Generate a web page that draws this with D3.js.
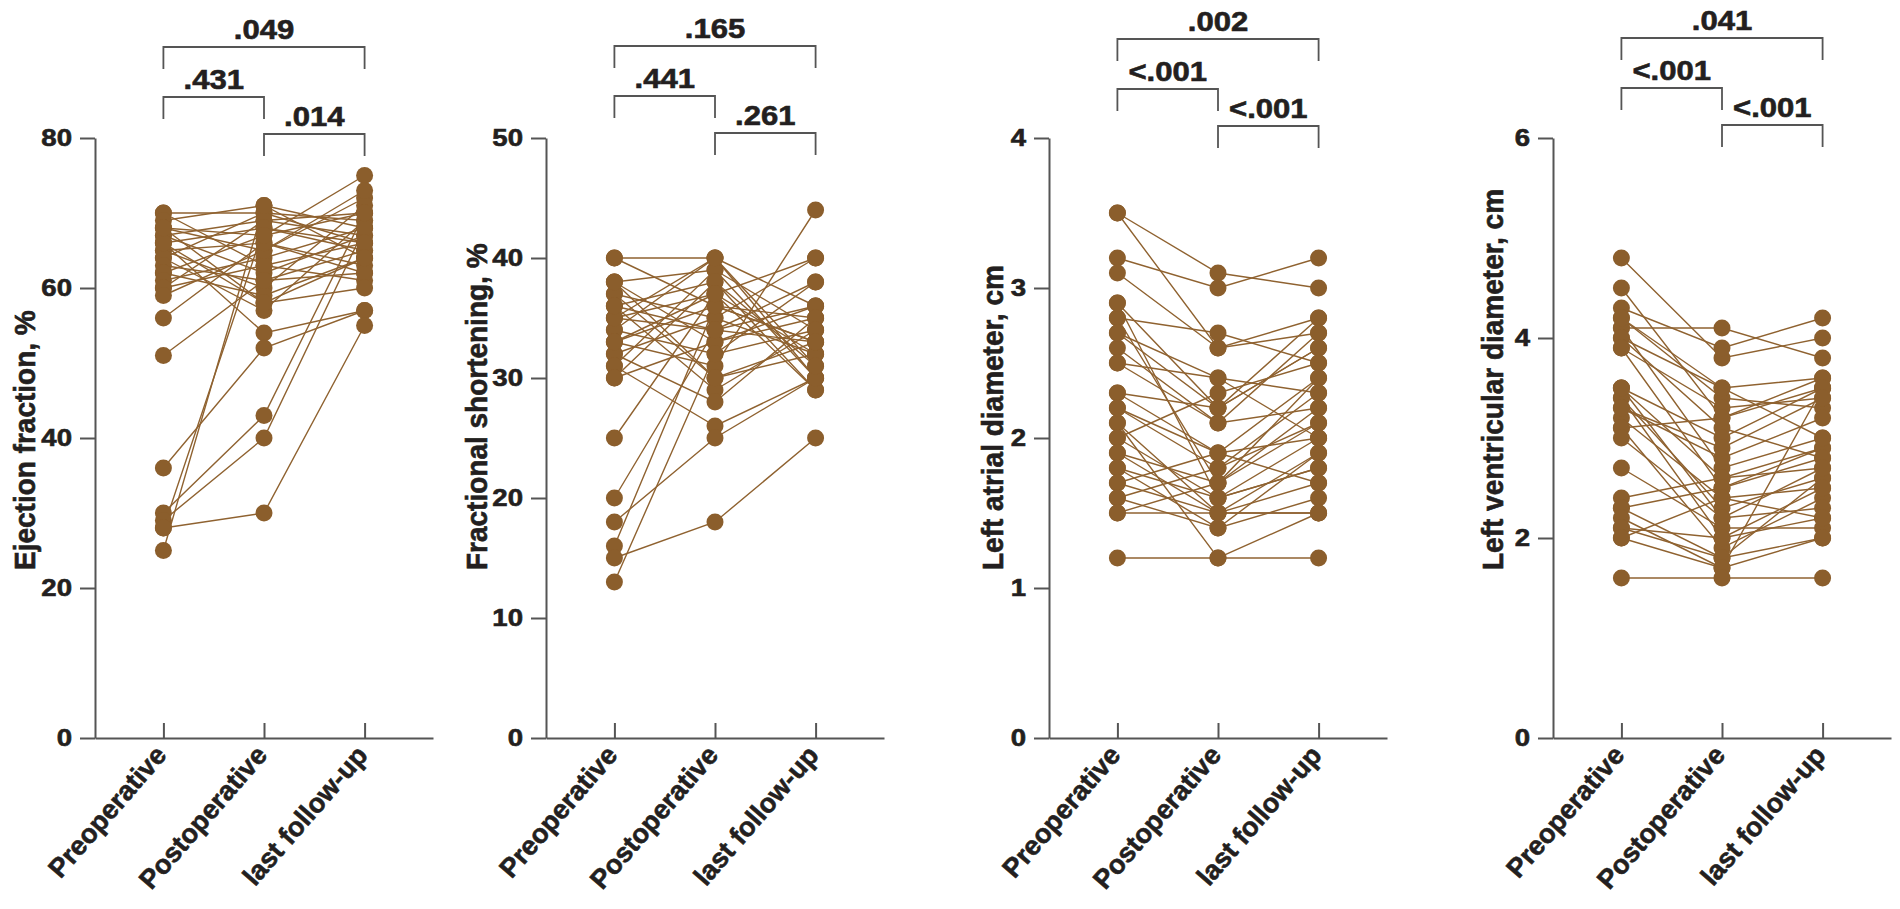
<!DOCTYPE html>
<html>
<head>
<meta charset="utf-8">
<script src="https://cdn.jsdelivr.net/npm/d3@7"></script>
<style>
  body { margin: 0; background: #fff; }
  svg { display: block; font-family: "Liberation Sans", Arial, sans-serif; font-weight: bold; }
</style>
</head>
<body>
<svg id="chart" width="1900" height="909"></svg>
<script>
// categorie
const stages = ["Preoperative", "Postoperative", "last follow-up"];

// Ejection fraction, % (un valore per paziente)
const efPre  = [70, 70, 69, 68, 68, 67, 67, 66, 66, 65, 65, 64, 64, 63, 62, 62, 61, 60, 60, 59, 56, 51, 36, 30, 29, 28, 28, 25, 66, 68];
const efPost = [70, 63, 71, 65, 58, 69, 62, 54, 68, 60, 66, 57, 70, 61, 67, 59, 64, 69, 63, 65, 66, 61, 52, 43, 40, 30, 68, 71, 58, 67];
const efLast = [69, 66, 68, 72, 64, 70, 67, 57, 65, 71, 63, 69, 66, 62, 75, 64, 68, 67, 61, 73, 62, 65, 57, 70, 68, 55, 66, 64, 60, 70];

// Fractional shortening, %
const fsPre  = [40, 40, 38, 38, 37, 37, 36, 36, 35, 35, 34, 34, 33, 33, 32, 32, 31, 31, 30, 30, 25, 20, 18, 16, 15, 13, 35, 38, 33, 36];
const fsPost = [40, 36, 39, 33, 35, 30, 38, 29, 37, 34, 32, 40, 31, 36, 28, 35, 39, 26, 33, 38, 37, 34, 25, 36, 18, 32, 40, 30, 37, 34];
const fsLast = [36, 33, 30, 35, 40, 32, 31, 34, 29, 36, 38, 30, 44, 33, 35, 32, 34, 30, 36, 29, 32, 33, 30, 35, 25, 34, 31, 33, 40, 38];

// Left atrial diameter, cm
const laPre  = [3.5, 3.5, 3.2, 3.1, 2.9, 2.8, 2.8, 2.7, 2.6, 2.5, 2.5, 2.3, 2.3, 2.2, 2.1, 2.1, 2.0, 2.0, 1.9, 1.9, 1.8, 1.8, 1.7, 1.7, 1.6, 1.6, 1.5, 1.5, 1.2, 2.9, 2.7, 2.2];
const laPost = [3.1, 2.6, 3.0, 2.6, 2.2, 2.7, 1.7, 2.2, 2.1, 2.4, 2.1, 1.9, 2.2, 1.8, 1.5, 1.2, 1.6, 2.3, 1.7, 1.5, 1.6, 1.4, 1.9, 1.5, 1.8, 1.4, 1.5, 1.7, 1.2, 1.6, 2.4, 1.9];
const laLast = [3.0, 2.7, 3.2, 2.8, 2.6, 2.5, 2.4, 2.8, 2.7, 2.3, 2.2, 2.0, 2.6, 2.1, 1.9, 1.5, 1.8, 2.5, 2.2, 1.7, 2.0, 1.6, 2.4, 1.5, 2.3, 1.9, 1.5, 2.1, 1.2, 1.8, 2.0, 1.7];

// Left ventricular diameter, cm
const lvPre  = [4.8, 4.5, 4.3, 4.2, 4.1, 4.1, 4.0, 4.0, 3.9, 3.9, 3.5, 3.5, 3.4, 3.4, 3.3, 3.2, 3.1, 3.1, 3.0, 2.7, 2.4, 2.3, 2.3, 2.2, 2.1, 2.1, 2.0, 1.6, 3.3, 3.5, 4.2, 2.0];
const lvPost = [3.8, 3.2, 3.9, 3.4, 4.1, 2.7, 3.5, 3.1, 2.5, 3.3, 2.6, 3.0, 2.3, 2.0, 2.8, 2.4, 1.9, 3.2, 2.2, 2.1, 2.6, 1.8, 2.5, 1.7, 1.8, 2.0, 1.7, 1.6, 2.9, 2.2, 3.5, 2.4];
const lvLast = [4.0, 3.5, 4.2, 3.3, 3.8, 3.0, 3.6, 2.8, 2.9, 3.4, 2.7, 3.5, 2.6, 2.5, 3.2, 2.2, 2.4, 3.6, 2.3, 2.1, 2.9, 2.0, 2.8, 3.5, 2.6, 2.2, 2.0, 1.6, 3.4, 2.7, 3.0, 2.5];

// assi y e titoli
const yTitles = ["Ejection fraction, %", "Fractional shortening, %", "Left atrial diameter, cm", "Left ventricular diameter, cm"];
const yTicks = [[0, 20, 40, 60, 80], [0, 10, 20, 30, 40, 50], [0, 1, 2, 3, 4], [0, 2, 4, 6]];

// p: [pre vs post, post vs last, pre vs last]
const pValues = [[".431", ".014", ".049"], [".441", ".261", ".165"], ["<.001", "<.001", ".002"], ["<.001", "<.001", ".041"]];

const seriesByPanel = [
  [efPre, efPost, efLast],
  [fsPre, fsPost, fsLast],
  [laPre, laPost, laLast],
  [lvPre, lvPost, lvLast]
];

// layout (pixel)
const axisX = [95, 546, 1049, 1553];
const titleOff = [60, 59, 46, 50];
const bracketTop = [47, 46, 39, 38];
const plotTop = 138, plotBottom = 738, axisLen = 338;
const AXIS_COL = "#555", TEXT_COL = "#231f20", DOT_COL = "#8b5e2c", LINE_COL = "#8f6230";
const FONT = "'Liberation Sans', Arial, sans-serif";

const svg = d3.select("#chart");

function boldText(sel, size) {
  sel.attr("fill", TEXT_COL)
    .attr("stroke", TEXT_COL)
    .attr("stroke-width", 0.6)
    .attr("font-size", size)
    .attr("font-family", FONT)
    .attr("font-weight", "bold");
}

seriesByPanel.forEach((series, p) => {
  const ax = axisX[p];
  const ticks = yTicks[p];
  const g = svg.append("g");

  const x = d3.scalePoint().domain(stages).range([ax, ax + axisLen]).padding(0.68);
  const y = d3.scaleLinear().domain([0, d3.max(ticks)]).range([plotBottom, plotTop]);

  // asse y
  const gy = g.append("g")
    .attr("transform", `translate(${ax},0)`)
    .call(d3.axisLeft(y).tickValues(ticks).tickFormat(d3.format("d"))
      .tickSize(15).tickSizeOuter(0).tickPadding(5));
  gy.selectAll("path, line").attr("stroke", AXIS_COL).attr("stroke-width", 2);
  gy.selectAll("text")
    .call(boldText, 24)
    .attr("transform", "scale(1.15,1)");

  // asse x, tick verso l'interno
  const gx = g.append("g")
    .attr("transform", `translate(0,${plotBottom})`)
    .call(d3.axisBottom(x).tickSize(-15).tickSizeOuter(0));
  gx.selectAll("path, line").attr("stroke", AXIS_COL).attr("stroke-width", 2);
  gx.selectAll("text")
    .attr("x", 0).attr("y", 0).attr("dy", 0)
    .attr("text-anchor", "end")
    .call(boldText, 27)
    .attr("transform", "translate(4,18) rotate(-49)");

  // titolo asse y
  g.append("text")
    .attr("transform", `translate(${ax - titleOff[p]},570) scale(1.08,1) rotate(-90)`)
    .attr("text-anchor", "start")
    .call(boldText, 28)
    .text(yTitles[p]);

  // linee appaiate
  const subjects = d3.range(series[0].length).map(i => stages.map((s, k) => [s, series[k][i]]));
  const line = d3.line().x(d => x(d[0])).y(d => y(d[1]));
  g.append("g").selectAll("path")
    .data(subjects)
    .join("path")
    .attr("d", line)
    .attr("fill", "none")
    .attr("stroke", LINE_COL)
    .attr("stroke-width", 1.4);

  // punti
  stages.forEach((s, k) => {
    g.append("g").selectAll("circle")
      .data(series[k])
      .join("circle")
      .attr("cx", x(s))
      .attr("cy", d => y(d))
      .attr("r", 8.5)
      .attr("fill", DOT_COL);
  });

  // parentesi con p
  const top = bracketTop[p];
  const brackets = [
    { a: 0, b: 1, yy: top + 50, label: pValues[p][0] },
    { a: 1, b: 2, yy: top + 87, label: pValues[p][1] },
    { a: 0, b: 2, yy: top, label: pValues[p][2] }
  ];
  brackets.forEach(br => {
    const x1 = x(stages[br.a]), x2 = x(stages[br.b]);
    g.append("path")
      .attr("d", `M${x1},${br.yy + 22}V${br.yy}H${x2}V${br.yy + 22}`)
      .attr("fill", "none")
      .attr("stroke", AXIS_COL)
      .attr("stroke-width", 1.8);
    g.append("text")
      .attr("transform", `translate(${(x1 + x2) / 2},${br.yy - 8}) scale(1.15,1)`)
      .attr("text-anchor", "middle")
      .call(boldText, 27)
      .text(br.label);
  });
});
</script>
</body>
</html>
